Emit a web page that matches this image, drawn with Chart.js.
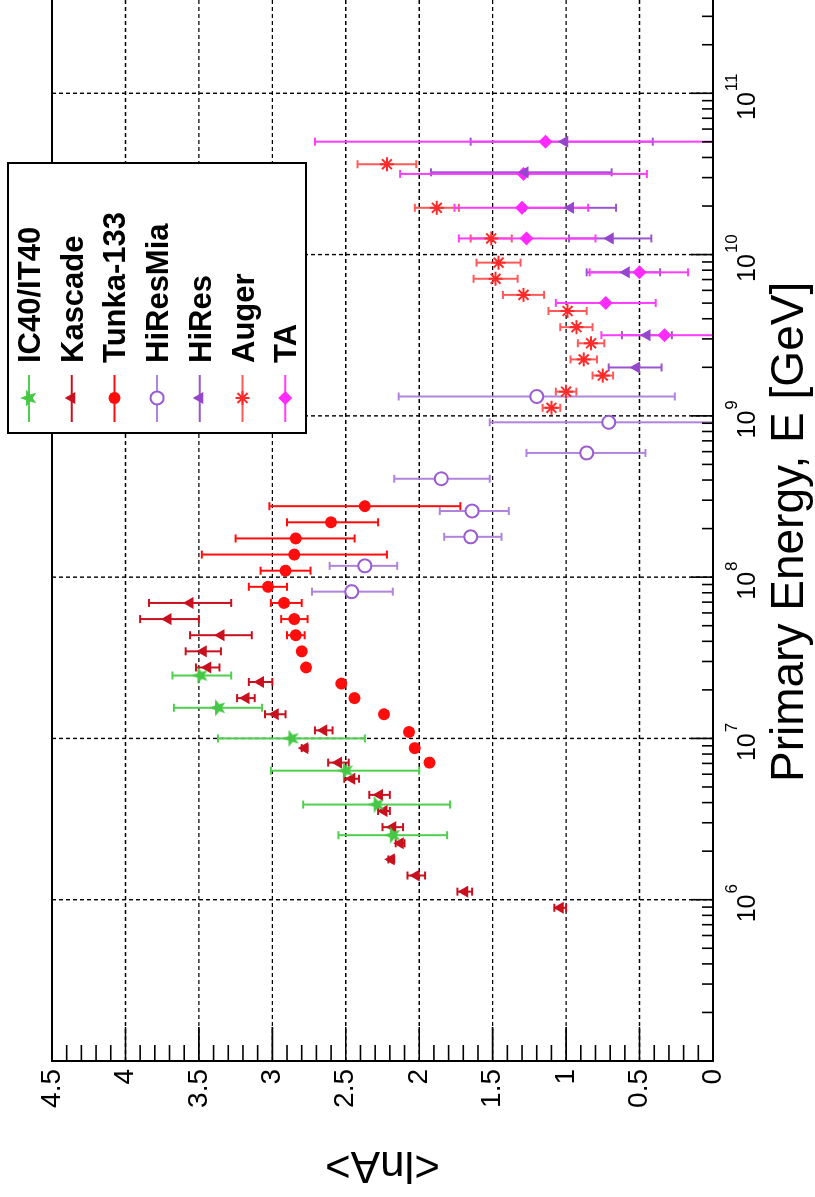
<!DOCTYPE html>
<html>
<head>
<meta charset="utf-8">
<script src="https://cdn.jsdelivr.net/npm/chart.js@4.4.1/dist/chart.umd.min.js"></script>
<style>
  html, body { margin: 0; padding: 0; background: #fff; overflow: hidden; }
  body { width: 815px; height: 1197px; position: relative; }
  /* the plot is drawn landscape and turned a quarter turn, like the original figure */
  #wrap { position: absolute; left: 0; top: 0; width: 1315px; height: 815px;
          transform-origin: 0 0; transform: translate(0px, 1197px) rotate(-90deg); }
</style>
</head>
<body>
<div id="wrap"><canvas id="lnaChart" width="1315" height="815"></canvas></div>
<script>
const ctx = document.getElementById('lnaChart').getContext('2d');

// energies are log10(E / GeV)
const icLogE = [6.40, 6.59, 6.80, 7.00, 7.19, 7.39];
const icLnA  = [2.18, 2.29, 2.50, 2.87, 3.37, 3.49];
const icLo   = [1.81, 1.79, 2.00, 2.37, 3.07, 3.28];
const icHi   = [2.55, 2.79, 3.01, 3.37, 3.67, 3.68];

const ksLogE = [5.95, 6.05, 6.15, 6.25, 6.35, 6.45, 6.55, 6.65, 6.75, 6.85, 6.94, 7.05, 7.15, 7.25, 7.35, 7.44, 7.54, 7.64, 7.74, 7.84];
const ksLnA  = [1.04, 1.69, 2.02, 2.19, 2.13, 2.18, 2.24, 2.27, 2.46, 2.55, 2.78, 2.65, 2.98, 3.18, 3.08, 3.44, 3.47, 3.35, 3.71, 3.56];
const ksLo   = [1.00, 1.64, 1.96, 2.17, 2.10, 2.11, 2.20, 2.20, 2.41, 2.48, 2.76, 2.59, 2.91, 3.12, 3.00, 3.36, 3.35, 3.14, 3.50, 3.28];
const ksHi   = [1.08, 1.74, 2.08, 2.21, 2.16, 2.25, 2.28, 2.34, 2.51, 2.62, 2.80, 2.71, 3.05, 3.24, 3.16, 3.52, 3.59, 3.56, 3.90, 3.84];

const tkLogE = [6.85, 6.94, 7.04, 7.15, 7.25, 7.34, 7.44, 7.54, 7.64, 7.74, 7.84, 7.94, 8.04, 8.14, 8.24, 8.34, 8.44];
const tkLnA  = [1.93, 2.03, 2.07, 2.24, 2.44, 2.53, 2.77, 2.80, 2.84, 2.85, 2.92, 3.03, 2.91, 2.85, 2.84, 2.60, 2.37];
const tkLo   = [1.93, 2.03, 2.07, 2.24, 2.44, 2.53, 2.77, 2.80, 2.78, 2.76, 2.80, 2.90, 2.74, 2.22, 2.44, 2.28, 1.72];
const tkHi   = [1.93, 2.03, 2.07, 2.24, 2.44, 2.53, 2.77, 2.80, 2.90, 2.94, 3.01, 3.16, 3.08, 3.48, 3.25, 2.90, 3.02];

const hmLogE = [7.91, 8.07, 8.25, 8.41, 8.61, 8.77, 8.96, 9.12];
const hmLnA  = [2.46, 2.37, 1.65, 1.64, 1.85, 0.86, 0.71, 1.20];
const hmLo   = [2.18, 2.15, 1.44, 1.39, 1.52, 0.46, -0.1, 0.26];
const hmHi   = [2.73, 2.61, 1.83, 1.86, 2.17, 1.27, 1.52, 2.14];

const hrLogE = [9.30, 9.50, 9.89, 10.10, 10.29, 10.51, 10.70];
const hrLnA  = [0.52, 0.45, 0.59, 0.70, 0.97, 1.28, 1.01];
const hrLo   = [0.35, 0.28, 0.36, 0.42, 0.66, 0.69, 0.41];
const hrHi   = [0.71, 0.62, 0.86, 0.98, 1.28, 1.92, 1.65];

const agLogE = [9.05, 9.15, 9.25, 9.35, 9.45, 9.55, 9.65, 9.75, 9.85, 9.95, 10.10, 10.29, 10.56];
const agLnA  = [1.10, 1.00, 0.75, 0.88, 0.83, 0.93, 0.99, 1.29, 1.48, 1.46, 1.51, 1.88, 2.22];
const agLo   = [1.04, 0.93, 0.68, 0.79, 0.74, 0.82, 0.86, 1.15, 1.33, 1.31, 1.37, 1.73, 2.02];
const agHi   = [1.16, 1.07, 0.82, 0.97, 0.92, 1.04, 1.12, 1.43, 1.63, 1.61, 1.65, 2.03, 2.42];

const taLogE = [9.50, 9.70, 9.89, 10.10, 10.29, 10.50, 10.70];
const taLnA  = [0.33, 0.73, 0.50, 1.27, 1.30, 1.29, 1.14];
const taLo   = [-0.1, 0.39, 0.17, 0.80, 0.85, 0.45, -0.5];
const taHi   = [0.76, 1.07, 0.84, 1.73, 1.76, 2.13, 2.71];

const lnaMajor = [0, 0.5, 1, 1.5, 2, 2.5, 3, 3.5, 4, 4.5];
const lnaLabels = ['0', '0.5', '1', '1.5', '2', '2.5', '3', '3.5', '4', '4.5'];
const lnaGrid = [0.5, 1, 1.5, 2, 2.5, 3, 3.5, 4];
const energyExp = [6, 7, 8, 9, 10, 11];
const decadeStart = [5, 6, 7, 8, 9, 10, 11];

const FONT = '"Liberation Sans", Arial, Helvetica, sans-serif';

// filled five-pointed star used as the IC40/IT40 marker
function starImage(color, r) {
  const c = document.createElement('canvas');
  c.width = c.height = 2 * r + 2;
  const g = c.getContext('2d');
  g.fillStyle = color;
  g.beginPath();
  for (let i = 0; i < 10; i++) {
    const a = -Math.PI / 2 + i * Math.PI / 5;
    const rr = i % 2 ? r * 0.42 : r;
    g.lineTo(r + 1 + rr * Math.cos(a), r + 1 + rr * Math.sin(a));
  }
  g.closePath();
  g.fill();
  return c;
}

const series = [
  { label: 'IC40/IT40', logE: icLogE, val: icLnA, lo: icLo, hi: icHi, color: '#46c846', err: '#4fcf4f', style: starImage('#46c846', 9), radius: 9, fill: '#46c846', bw: 0 },
  { label: 'Kascade',   logE: ksLogE, val: ksLnA, lo: ksLo, hi: ksHi, color: '#c8101e', err: '#c8101e', style: 'triangle', radius: 7, fill: '#c8101e', bw: 0 },
  { label: 'Tunka-133', logE: tkLogE, val: tkLnA, lo: tkLo, hi: tkHi, color: '#ff0d0d', err: '#ff0d0d', style: 'circle', radius: 6, fill: '#ff0d0d', bw: 0 },
  { label: 'HiResMia',  logE: hmLogE, val: hmLnA, lo: hmLo, hi: hmHi, color: '#9b5bd2', err: '#b084dc', style: 'circle', radius: 6.5, fill: '#ffffff', bw: 2 },
  { label: 'HiRes',     logE: hrLogE, val: hrLnA, lo: hrLo, hi: hrHi, color: '#9446cc', err: '#9a55d0', style: 'triangle', radius: 7, fill: '#9446cc', bw: 0 },
  { label: 'Auger',     logE: agLogE, val: agLnA, lo: agLo, hi: agHi, color: '#ff2a2a', err: '#ff5a5a', style: 'star', radius: 7, fill: '#ff2a2a', bw: 2 },
  { label: 'TA',        logE: taLogE, val: taLnA, lo: taLo, hi: taHi, color: '#ff2aff', err: '#ff3cff', style: 'rectRot', radius: 7, fill: '#ff2aff', bw: 0 }
];

const datasets = series.map(s => ({
  label: s.label,
  data: s.logE.map((e, i) => ({ x: 10 ** e, y: s.val[i] })),
  pointStyle: s.style,
  pointRadius: s.radius,
  pointBackgroundColor: s.fill,
  pointBorderColor: s.color,
  pointBorderWidth: s.bw,
  showLine: false
}));

function seg(c, x1, y1, x2, y2) {
  c.beginPath(); c.moveTo(x1, y1); c.lineTo(x2, y2); c.stroke();
}

const rootStyle = {
  id: 'rootStyle',
  beforeDatasetsDraw(chart) {
    const { ctx: c, chartArea: a, scales: { x, y } } = chart;
    c.save();
    // dashed grid
    c.strokeStyle = '#000';
    c.lineWidth = 1.4;
    c.setLineDash([4, 3]);
    energyExp.forEach(n => { const px = x.getPixelForValue(10 ** n); seg(c, px, a.top, px, a.bottom); });
    lnaGrid.forEach(v => { const py = y.getPixelForValue(v); seg(c, a.left, py, a.right, py); });
    c.setLineDash([]);
    // error bars with small caps
    c.lineWidth = 2;
    series.forEach(s => {
      c.strokeStyle = s.err;
      s.logE.forEach((e, i) => {
        if (s.hi[i] - s.lo[i] < 0.005) return;
        const px = x.getPixelForValue(10 ** e);
        const lo = Math.max(s.lo[i], 0), hi = Math.min(s.hi[i], 4.5);
        const y1 = y.getPixelForValue(lo), y2 = y.getPixelForValue(hi);
        seg(c, px, y1, px, y2);
        if (s.lo[i] >= 0) seg(c, px - 4, y1, px + 4, y1);
        if (s.hi[i] <= 4.5) seg(c, px - 4, y2, px + 4, y2);
      });
    });
    c.restore();
  },
  afterDraw(chart) {
    const { ctx: c, chartArea: a, scales: { x, y } } = chart;
    c.save();
    c.strokeStyle = '#000';
    c.fillStyle = '#000';
    c.lineWidth = 1.6;
    // lnA ticks, pointing into the frame
    for (let k = 0; k <= 45; k++) {
      const py = y.getPixelForValue(k / 10);
      seg(c, a.left, py, a.left + (k % 5 === 0 ? 34 : 16), py);
    }
    // energy ticks along the lnA = 0 edge
    decadeStart.forEach(n => {
      for (let m = 1; m <= 9; m++) {
        const px = x.getPixelForValue(m * 10 ** n);
        if (px < a.left || px > a.right) continue;
        seg(c, px, a.bottom, px, a.bottom - (m === 1 ? 22 : 11));
      }
    });
    // frame
    c.lineWidth = 2;
    c.strokeRect(a.left, a.top, a.right - a.left, a.bottom - a.top);

    // lnA tick labels
    c.font = '28px ' + FONT;
    c.textAlign = 'right';
    c.textBaseline = 'middle';
    lnaMajor.forEach((v, i) => c.fillText(lnaLabels[i], a.left - 8, y.getPixelForValue(v)));

    // 10^n labels
    c.textAlign = 'left';
    c.textBaseline = 'alphabetic';
    energyExp.forEach(n => {
      const px = x.getPixelForValue(10 ** n);
      c.font = '25px ' + FONT;
      const w1 = c.measureText('10').width;
      c.font = '17px ' + FONT;
      const w2 = c.measureText(String(n)).width;
      const left = px - (w1 + w2) / 2 - 4;
      c.font = '25px ' + FONT;
      c.fillText('10', left, a.bottom + 42);
      c.font = '17px ' + FONT;
      c.fillText(String(n), left + w1 + 1, a.bottom + 24);
    });

    // axis titles
    c.font = '46px ' + FONT;
    c.textAlign = 'left';
    c.fillText('Primary Energy, E [GeV]', 415, a.bottom + 90);
    c.save();
    c.translate(33, (a.top + a.bottom) / 2);
    c.rotate(-Math.PI / 2);
    c.font = '44px ' + FONT;
    c.textAlign = 'center';
    c.textBaseline = 'middle';
    c.fillText('<lnA>', 0, 0);
    c.restore();

    // legend box
    const bx = 764, by = 8, bw = 270, bh = 298;
    c.fillStyle = '#fff';
    c.fillRect(bx, by, bw, bh);
    c.lineWidth = 2;
    c.strokeStyle = '#000';
    c.strokeRect(bx, by, bw, bh);
    series.forEach((s, i) => {
      const ry = 29 + i * 42.7;
      c.strokeStyle = s.err;
      c.lineWidth = 2;
      seg(c, bx + 11, ry, bx + 58, ry);
      c.fillStyle = s.fill;
      c.strokeStyle = s.color;
      c.lineWidth = s.bw;
      Chart.helpers.drawPoint(c, { pointStyle: s.style, radius: s.radius, borderWidth: s.bw, rotation: 0 }, bx + 35, ry);
      c.fillStyle = '#000';
      c.font = 'bold 31px ' + FONT;
      c.textAlign = 'left';
      c.textBaseline = 'alphabetic';
      c.fillText(s.label, bx + 70, ry + 11);
    });
    c.restore();
  }
};

new Chart(ctx, {
  type: 'scatter',
  data: { datasets },
  options: {
    responsive: false,
    animation: false,
    devicePixelRatio: 1,
    layout: { padding: { left: 136, right: 50, top: 52, bottom: 102 } },
    scales: {
      x: { type: 'logarithmic', min: 1e5, max: 1e12, display: false },
      y: { type: 'linear', min: 0, max: 4.5, display: false }
    },
    plugins: { legend: { display: false }, tooltip: { enabled: false } }
  },
  plugins: [rootStyle]
});
</script>
</body>
</html>
